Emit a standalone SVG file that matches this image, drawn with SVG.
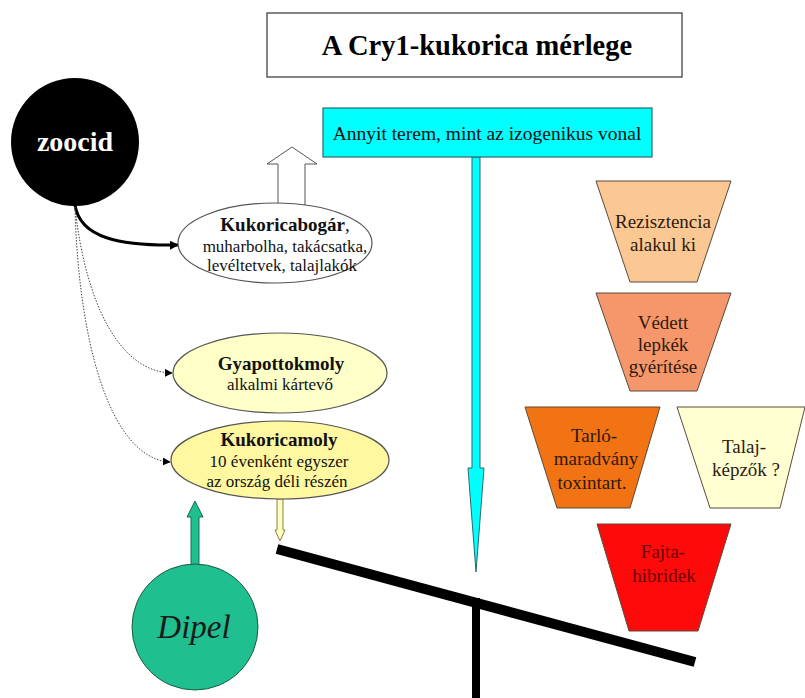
<svg xmlns="http://www.w3.org/2000/svg" width="805" height="698" viewBox="0 0 805 698">
<defs>
<style>
.serif{font-family:"Liberation Serif","Times New Roman",serif;}
.trap{stroke:#5a4a3a;stroke-width:1;}
.tt{font-family:"Liberation Serif","Times New Roman",serif;font-size:19px;fill:#2e1a0e;text-anchor:middle;}
.et{font-family:"Liberation Serif","Times New Roman",serif;fill:#111;text-anchor:middle;}
.b{font-weight:bold;font-size:19px;}
.r{font-size:17px;}
.ell{stroke:#555;stroke-width:1.2;}
</style>
<marker id="ah" viewBox="0 0 10 10" refX="9" refY="5" markerWidth="9" markerHeight="9" markerUnits="userSpaceOnUse" orient="auto">
<path d="M0,0 L10,5 L0,10 z" fill="#000"/>
</marker>
<marker id="ahs" viewBox="0 0 10 10" refX="9" refY="5" markerWidth="8" markerHeight="8" markerUnits="userSpaceOnUse" orient="auto">
<path d="M0,0 L10,5 L0,10 z" fill="#000"/>
</marker>
</defs>
<rect width="805" height="698" fill="#fff"/>

<g id="title">
<rect x="267" y="13" width="415" height="64" fill="#fff" stroke="#333" stroke-width="1.2"/>
<text x="477" y="55" class="serif" font-size="28.5" font-weight="bold" text-anchor="middle" fill="#000">A Cry1-kukorica mérlege</text>
</g>

<g id="connectors">
<path d="M75,205 C80,238 120,246 178,245" fill="none" stroke="#000" stroke-width="3" marker-end="url(#ah)"/>
<path d="M75,207 C85,300 118,372 172,373" fill="none" stroke="#444" stroke-width="1" stroke-dasharray="1.5,1.5" marker-end="url(#ahs)"/>
<path d="M75,207 C78,335 108,458 170,462" fill="none" stroke="#444" stroke-width="1" stroke-dasharray="1.5,1.5" marker-end="url(#ahs)"/>
<polygon points="278,205 278,164 267,164 292,147 317,164 305,164 305,205" fill="#fff" stroke="#555" stroke-width="1"/>
<polygon points="472,157 480,157 480,468 484,468 476,572 468,468 472,468" fill="#00ffff" stroke="#2a6a6a" stroke-width="1"/>
<polygon points="277,499 283,499 283,530 285,530 280,541 275,530 277,530" fill="#ffffc0" stroke="#8a8040" stroke-width="1"/>
<polygon points="191,565 191,517 187,517 195,501 203,517 199,517 199,565" fill="#1fbf8f" stroke="#1a6a50" stroke-width="1"/>
</g>

<g id="balance">
<line x1="476" y1="598" x2="476" y2="698" stroke="#000" stroke-width="8"/>
<line x1="277" y1="549" x2="695" y2="662" stroke="#000" stroke-width="10"/>
</g>

<g id="yield">
<rect x="323" y="108" width="329" height="49" fill="#00ffff" stroke="#2a6a6a" stroke-width="1.2"/>
<text x="487" y="140" class="serif" font-size="19.5" text-anchor="middle" fill="#111">Annyit terem, mint az izogenikus vonal</text>
</g>

<g id="zoocid">
<circle cx="75" cy="142" r="64" fill="#000"/>
<text x="75" y="151" class="serif" font-size="28" font-weight="bold" text-anchor="middle" fill="#fff">zoocid</text>
</g>

<g id="kukoricabogar">
<ellipse cx="275" cy="243" rx="97" ry="40" fill="#fff" class="ell"/>
<text x="285" y="231" class="et b">Kukoricabogár<tspan font-weight="normal">,</tspan></text>
<text x="285" y="252" class="et r">muharbolha, takácsatka,</text>
<text x="282" y="271" class="et r">levéltetvek, talajlakók</text>
</g>

<g id="gyapottokmoly">
<ellipse cx="280" cy="373" rx="107" ry="40" fill="#ffffc8" class="ell"/>
<text x="281" y="370" class="et b">Gyapottokmoly</text>
<text x="280" y="390" class="et r">alkalmi kártevő</text>
</g>

<g id="kukoricamoly">
<ellipse cx="280" cy="460" rx="109" ry="39" fill="#fff8a0" class="ell"/>
<text x="279" y="446" class="et b">Kukoricamoly</text>
<text x="279" y="467" class="et r">10 évenként egyszer</text>
<text x="277" y="487" class="et r">az ország déli részén</text>
</g>

<g id="dipel">
<circle cx="195" cy="627" r="63" fill="#1fbf8f" stroke="#1a5a45" stroke-width="1"/>
<text x="194" y="638" class="serif" font-size="33" font-style="italic" text-anchor="middle" fill="#1a1a1a">Dipel</text>
</g>

<g id="rezisztencia">
<polygon class="trap" points="596,181 731,181 697,282 630,282" fill="#fbc894"/>
<text x="663" y="228" class="tt">Rezisztencia</text>
<text x="663" y="251" class="tt">alakul ki</text>
</g>

<g id="vedett">
<polygon class="trap" points="596,293 731,293 697,391 630,391" fill="#f5976a"/>
<text x="663" y="329" class="tt">Védett</text>
<text x="663" y="351" class="tt">lepkék</text>
<text x="663" y="373" class="tt">gyérítése</text>
</g>

<g id="tarlo">
<polygon class="trap" points="525,407 660,407 630,508 557,508" fill="#f27314"/>
<text x="594" y="442" class="tt">Tarló-</text>
<text x="596" y="465" class="tt">maradvány</text>
<text x="592" y="489" class="tt">toxintart.</text>
</g>

<g id="talaj">
<polygon class="trap" points="677,407 805,407 780,508 710,508" fill="#ffffd2"/>
<text x="744" y="453" class="tt">Talaj-</text>
<text x="746" y="476" class="tt">képzők ?</text>
</g>

<g id="fajta">
<polygon class="trap" points="597,524 731,524 698,631 629,631" fill="#ff0a0a"/>
<text x="663" y="558" class="tt" style="fill:#6a0000">Fajta-</text>
<text x="664" y="582" class="tt" style="fill:#6a0000">hibridek</text>
</g>
</svg>
